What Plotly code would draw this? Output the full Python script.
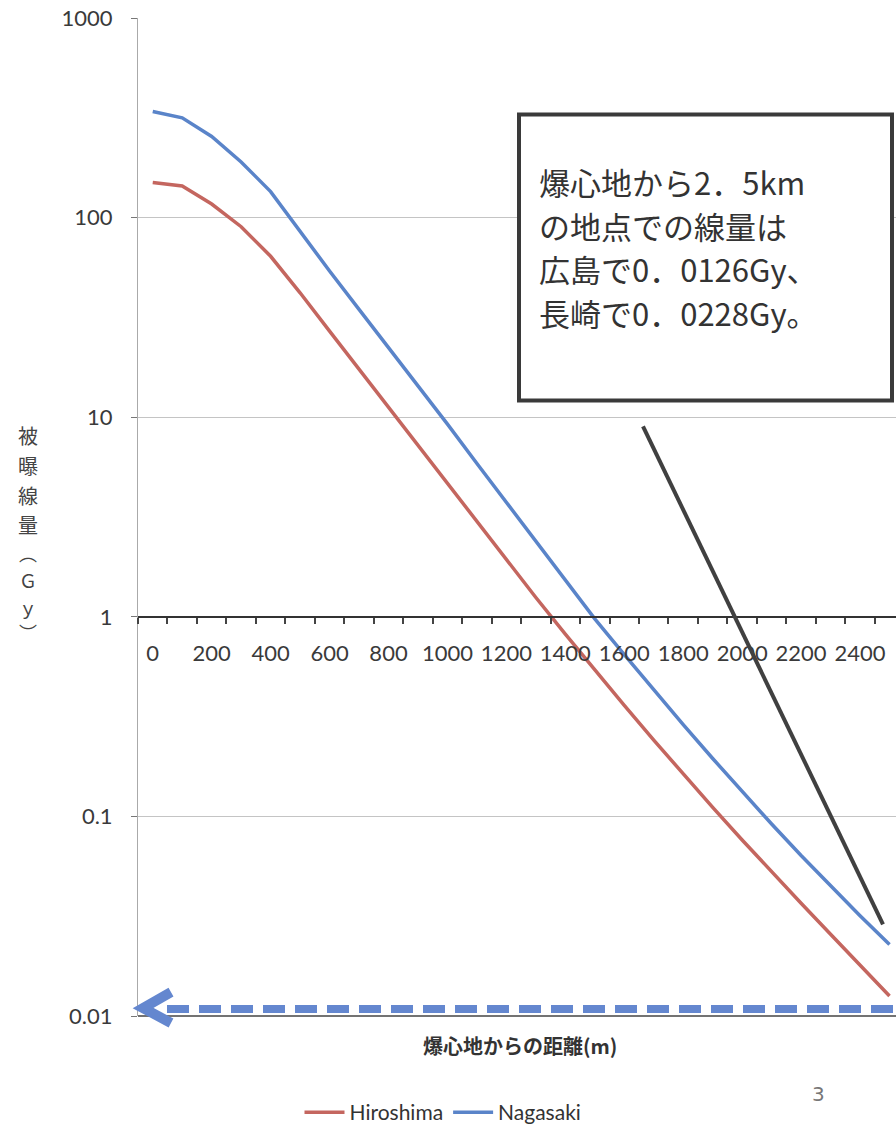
import plotly.graph_objects as go

# Distance from the hypocenter (m) and estimated dose (Gy)
distance_m = [0, 100, 200, 300, 400, 500, 600, 700, 800, 900, 1000, 1100, 1200,
              1300, 1400, 1500, 1600, 1700, 1800, 1900, 2000, 2100, 2200, 2300,
              2400, 2500]
hiroshima_gy = [150, 144, 117, 90, 64, 42, 27, 17.4, 11.2, 7.18, 4.63, 2.99, 1.93,
                1.25, 0.818, 0.541, 0.36, 0.241, 0.163, 0.111, 0.0762, 0.0527,
                0.0367, 0.0257, 0.0181, 0.0126]
nagasaki_gy = [340, 316, 255, 190, 135, 85, 54, 34.7, 22.4, 14.5, 9.23, 5.86, 3.73,
               2.38, 1.52, 0.977, 0.646, 0.43, 0.288, 0.195, 0.133, 0.0916, 0.0637,
               0.0448, 0.0318, 0.0228]

y_tick_vals = [0.01, 0.1, 1, 10, 100, 1000]
y_tick_text = ["0.01", "0.1", "1", "10", "100", "1000"]
x_tick_vals = list(range(0, 2401, 200))
x_tick_text = [str(v) for v in x_tick_vals]

callout_lines = ["爆心地から2．5km", "の地点での線量は", "広島で0．0126Gy、", "長崎で0．0228Gy。"]
y_title_chars = ["被", "曝", "線", "量", "︵", "Ｇ", "ｙ", "︶"]
x_title = "爆心地からの距離(m)"

W, H = 896, 1133
ML, MR, MT, MB = 138, 0, 18, 113
PW, PH = W - ML - MR, H - MT - MB


def px(x):
    return (x - ML) / PW


def py(y):
    return (H - MB - y) / PH


RED = "#C4665F"
BLUE = "#5A84C9"

fig = go.Figure()
fig.add_trace(go.Scatter(x=distance_m, y=hiroshima_gy, mode="lines", name="Hiroshima",
                         line=dict(color=RED, width=3.5)))
fig.add_trace(go.Scatter(x=distance_m, y=nagasaki_gy, mode="lines", name="Nagasaki",
                         line=dict(color=BLUE, width=3.5)))

tick_font = dict(family="Lato, sans-serif", size=22, color="#3a3a3a")

fig.update_layout(
    width=W, height=H,
    margin=dict(l=ML, r=MR, t=MT, b=MB, pad=0),
    paper_bgcolor="white", plot_bgcolor="white",
    showlegend=True,
    legend=dict(orientation="h", x=px(443), xanchor="center", y=py(1117), yanchor="middle",
                font=dict(family="Lato, sans-serif", size=21, color="#333"),
                itemwidth=40, bgcolor="rgba(0,0,0,0)"),
    xaxis=dict(
        range=[-50, 2522], anchor="free", position=0.4,
        tickvals=x_tick_vals, ticktext=x_tick_text, tickfont=tick_font,
        ticks="outside", ticklen=5, tickcolor="rgba(0,0,0,0)", ticklabelstandoff=12,
        minor=dict(ticks="outside", tick0=-50, dtick=100, ticklen=6, tickcolor="#444",
                   tickwidth=1.5, showgrid=False),
        showline=True, linecolor="#333", linewidth=1.5,
        showgrid=False, zeroline=False,
    ),
    yaxis=dict(
        type="log", range=[-2, 3], domain=[0, 1],
        tickvals=y_tick_vals, ticktext=y_tick_text, tickfont=tick_font,
        ticks="outside", ticklen=6, tickcolor="#777", ticklabelstandoff=14,
        showline=True, linecolor="#aaa", linewidth=1,
        showgrid=True, gridcolor="#c4c4c4", gridwidth=1, zeroline=False,
    ),
)

shapes = []
# bottom baseline at 0.01
shapes.append(dict(type="line", xref="paper", yref="paper", x0=0, x1=1, y0=0, y1=0,
                   line=dict(color="#444", width=1.5)))
# callout box
shapes.append(dict(type="rect", xref="paper", yref="paper",
                   x0=px(519), x1=px(892), y0=py(402), y1=py(115),
                   line=dict(color="#3a3a3a", width=4), fillcolor="white", layer="above"))
# callout pointer
shapes.append(dict(type="line", xref="paper", yref="paper",
                   x0=px(643), y0=py(428), x1=px(883), y1=py(928),
                   line=dict(color="#404040", width=4), layer="above"))
# dashed arrow along the bottom
shapes.append(dict(type="line", xref="paper", yref="paper",
                   x0=px(893), y0=py(1013), x1=px(166), y1=py(1013),
                   line=dict(color="#6487CF", width=8, dash="22px,10px"), layer="above"))
shapes.append(dict(type="path", xref="paper", yref="paper",
                   path=f"M {px(171)},{py(996)} L {px(143)},{py(1012)} L {px(171)},{py(1027)}",
                   line=dict(color="#6487CF", width=10), layer="above"))
fig.update_layout(shapes=shapes)

annotations = []
for text, yc in zip(callout_lines, [182, 226, 270, 314]):
    annotations.append(dict(
        xref="paper", yref="paper", x=px(538), y=py(yc), xanchor="left", yanchor="middle",
        align="left", showarrow=False, text=text, borderpad=0,
        font=dict(family="Noto Sans CJK JP", size=31, color="#333")))
annotations.append(dict(
    xref="paper", yref="paper", x=px(520), y=py(1050), xanchor="center", yanchor="middle",
    showarrow=False, text=f"<b>{x_title}</b>",
    font=dict(family="Noto Sans CJK JP", size=20, color="#333")))
for i, (ch, yc) in enumerate(zip(y_title_chars, [437, 467, 497, 527, 555, 582, 609, 634])):
    annotations.append(dict(
        xref="paper", yref="paper", x=px(28), y=py(yc), xanchor="center", yanchor="middle",
        showarrow=False, text=ch, borderpad=0,
        font=dict(family="Noto Sans CJK JP", size=20 if i < 4 else 18, color="#444")))
annotations.append(dict(
    xref="paper", yref="paper", x=px(818), y=py(1098), xanchor="center", yanchor="middle",
    showarrow=False, text="3",
    font=dict(family="DejaVu Sans", size=20, color="#777")))
fig.update_layout(annotations=annotations)

fig.write_html("out.html")
